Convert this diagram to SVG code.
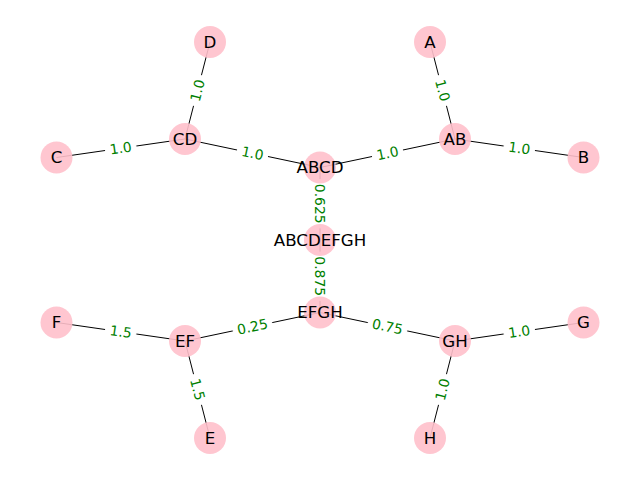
<svg xmlns="http://www.w3.org/2000/svg" width="640" height="480" viewBox="0 0 640 480">
<style>
.edge{stroke:#000;stroke-width:1;fill:none}
.node circle{fill:#FFC0CB;fill-opacity:0.9}
.node text{font-family:"DejaVu Sans",sans-serif;font-size:16.67px;fill:#000;text-anchor:middle}
.el rect{fill:#fff;stroke:#fff}
.el text{font-family:"DejaVu Sans",sans-serif;font-size:13.9px;fill:#008000;text-anchor:middle}
</style>
<rect width="640" height="480" fill="#fff"/>
<g id="edges">
<line class="edge" x1="56.5" y1="157.5" x2="185" y2="139"/>
<line class="edge" x1="210" y1="42" x2="185" y2="139"/>
<line class="edge" x1="185" y1="139" x2="320" y2="167.5"/>
<line class="edge" x1="430" y1="42" x2="455" y2="139"/>
<line class="edge" x1="455" y1="139" x2="583.5" y2="157.5"/>
<line class="edge" x1="455" y1="139" x2="320" y2="167.5"/>
<line class="edge" x1="320" y1="167.5" x2="320" y2="240"/>
<line class="edge" x1="320" y1="240" x2="320" y2="312.5"/>
<line class="edge" x1="320" y1="312.5" x2="185" y2="341"/>
<line class="edge" x1="320" y1="312.5" x2="455" y2="341"/>
<line class="edge" x1="56.5" y1="322.5" x2="185" y2="341"/>
<line class="edge" x1="185" y1="341" x2="210" y2="438"/>
<line class="edge" x1="455" y1="341" x2="583.5" y2="322.5"/>
<line class="edge" x1="455" y1="341" x2="430" y2="438"/>
</g>
<g id="edge-labels">
<g class="el" transform="translate(120.75,148.25) rotate(-8.2)"><rect x="-15.3" y="-12.3" width="30.6" height="24.6" rx="4"/><text y="4.8">1.0</text></g>
<g class="el" transform="translate(197.5,90.5) rotate(-75.5)"><rect x="-15.3" y="-12.3" width="30.6" height="24.6" rx="4"/><text y="4.8">1.0</text></g>
<g class="el" transform="translate(252.5,153.25) rotate(11.9)"><rect x="-15.3" y="-12.3" width="30.6" height="24.6" rx="4"/><text y="4.8">1.0</text></g>
<g class="el" transform="translate(442.5,90.5) rotate(75.5)"><rect x="-15.3" y="-12.3" width="30.6" height="24.6" rx="4"/><text y="4.8">1.0</text></g>
<g class="el" transform="translate(519.25,148.25) rotate(8.2)"><rect x="-15.3" y="-12.3" width="30.6" height="24.6" rx="4"/><text y="4.8">1.0</text></g>
<g class="el" transform="translate(387.5,153.25) rotate(-11.9)"><rect x="-15.3" y="-12.3" width="30.6" height="24.6" rx="4"/><text y="4.8">1.0</text></g>
<g class="el" transform="translate(320,203.75) rotate(90)"><rect x="-24.1" y="-12.3" width="48.2" height="24.6" rx="4"/><text y="4.8">0.625</text></g>
<g class="el" transform="translate(320,276.25) rotate(90)"><rect x="-24.1" y="-12.3" width="48.2" height="24.6" rx="4"/><text y="4.8">0.875</text></g>
<g class="el" transform="translate(252.5,326.75) rotate(-11.9)"><rect x="-19.7" y="-12.3" width="39.4" height="24.6" rx="4"/><text y="4.8">0.25</text></g>
<g class="el" transform="translate(387.5,326.75) rotate(11.9)"><rect x="-19.7" y="-12.3" width="39.4" height="24.6" rx="4"/><text y="4.8">0.75</text></g>
<g class="el" transform="translate(120.75,331.75) rotate(8.2)"><rect x="-15.3" y="-12.3" width="30.6" height="24.6" rx="4"/><text y="4.8">1.5</text></g>
<g class="el" transform="translate(197.5,389.5) rotate(75.5)"><rect x="-15.3" y="-12.3" width="30.6" height="24.6" rx="4"/><text y="4.8">1.5</text></g>
<g class="el" transform="translate(519.25,331.75) rotate(-8.2)"><rect x="-15.3" y="-12.3" width="30.6" height="24.6" rx="4"/><text y="4.8">1.0</text></g>
<g class="el" transform="translate(442.5,389.5) rotate(-75.5)"><rect x="-15.3" y="-12.3" width="30.6" height="24.6" rx="4"/><text y="4.8">1.0</text></g>
</g>
<g id="node-D" class="node"><circle cx="210" cy="42" r="16"/><text x="210" y="47.8">D</text></g>
<g id="node-A" class="node"><circle cx="430" cy="42" r="16"/><text x="430" y="47.8">A</text></g>
<g id="node-CD" class="node"><circle cx="185" cy="139" r="16"/><text x="185" y="144.8">CD</text></g>
<g id="node-AB" class="node"><circle cx="455" cy="139" r="16"/><text x="455" y="144.8">AB</text></g>
<g id="node-C" class="node"><circle cx="56.5" cy="157.5" r="16"/><text x="56.5" y="163.3">C</text></g>
<g id="node-B" class="node"><circle cx="583.5" cy="157.5" r="16"/><text x="583.5" y="163.3">B</text></g>
<g id="node-ABCD" class="node"><circle cx="320" cy="167.5" r="16"/><text x="320" y="173.3">ABCD</text></g>
<g id="node-ABCDEFGH" class="node"><circle cx="320" cy="240" r="16"/><text x="320" y="245.8">ABCDEFGH</text></g>
<g id="node-EFGH" class="node"><circle cx="320" cy="312.5" r="16"/><text x="320" y="318.3">EFGH</text></g>
<g id="node-F" class="node"><circle cx="56.5" cy="322.5" r="16"/><text x="56.5" y="328.3">F</text></g>
<g id="node-G" class="node"><circle cx="583.5" cy="322.5" r="16"/><text x="583.5" y="328.3">G</text></g>
<g id="node-EF" class="node"><circle cx="185" cy="341" r="16"/><text x="185" y="346.8">EF</text></g>
<g id="node-GH" class="node"><circle cx="455" cy="341" r="16"/><text x="455" y="346.8">GH</text></g>
<g id="node-E" class="node"><circle cx="210" cy="438" r="16"/><text x="210" y="443.8">E</text></g>
<g id="node-H" class="node"><circle cx="430" cy="438" r="16"/><text x="430" y="443.8">H</text></g>
</svg>
